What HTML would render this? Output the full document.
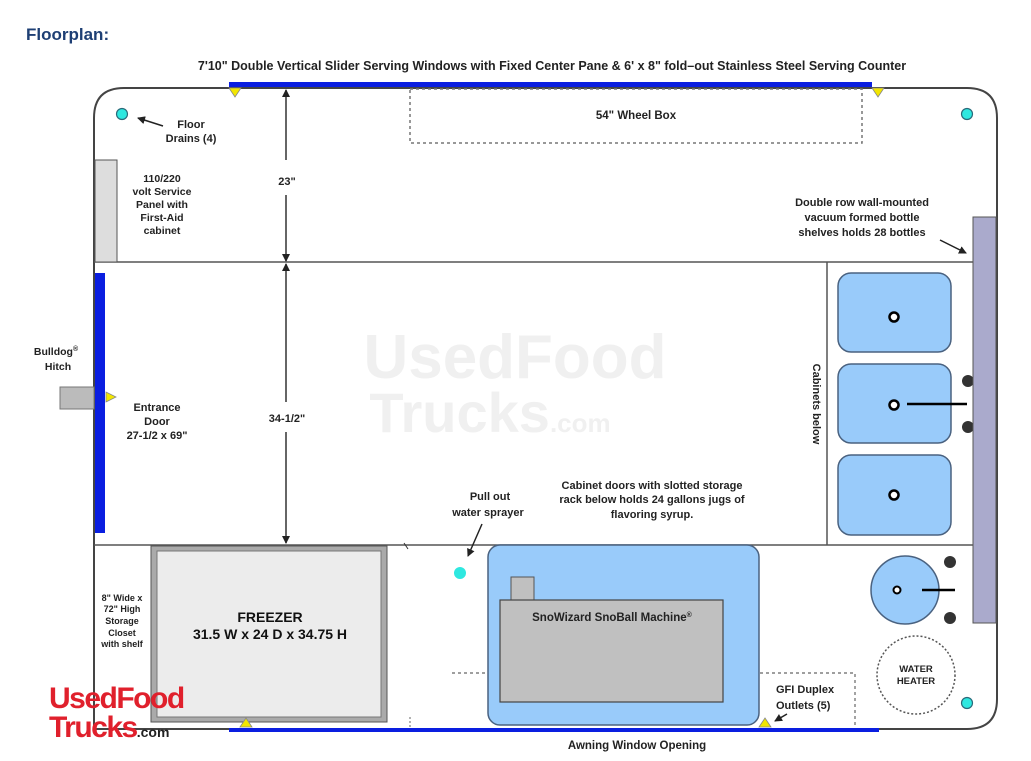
<!DOCTYPE html>
<html><head><meta charset="utf-8"><style>
html,body{margin:0;padding:0;background:#fff;}
svg{display:block;font-family:"Liberation Sans",Arial,sans-serif;}
</style></head><body>
<svg width="1031" height="761" viewBox="0 0 1031 761" xmlns="http://www.w3.org/2000/svg">
<defs>
<marker id="ah" markerWidth="8" markerHeight="8" refX="7" refY="4" orient="auto" markerUnits="userSpaceOnUse"><path d="M0,0 L8,4 L0,8 z" fill="#222"/></marker>
</defs>
<text x="26" y="40" font-size="17" font-weight="bold" fill="#1e3f74">Floorplan:</text>
<text x="552" y="70" font-size="12.5" font-weight="bold" fill="#222" text-anchor="middle">7'10" Double Vertical Slider Serving Windows with Fixed Center Pane &amp; 6' x 8" fold–out Stainless Steel Serving Counter</text>

<text x="515" y="378" font-size="62" font-weight="bold" fill="#f0f0f0" text-anchor="middle">UsedFood</text>
<text x="490" y="432" font-size="56" font-weight="bold" fill="#f0f0f0" text-anchor="middle">Trucks<tspan font-size="26">.com</tspan></text>

<path d="M94,729 L94,118 Q94,88 124,88 L967,88 Q997,88 997,118 L997,699 Q997,729 967,729 Z" fill="none" stroke="#444" stroke-width="2"/>
<rect x="410" y="89" width="452" height="54" fill="none" stroke="#777" stroke-width="1.5" stroke-dasharray="3,3"/>
<text x="636" y="119" font-size="11.5" font-weight="bold" fill="#222" text-anchor="middle">54" Wheel Box</text>
<rect x="229" y="82" width="643" height="5" fill="#0a1ee0"/>
<path d="M229,88 L241,88 L235,97 z" fill="#f2e600" stroke="#888" stroke-width="0.8"/>
<path d="M872,88 L884,88 L878,97 z" fill="#f2e600" stroke="#888" stroke-width="0.8"/>

<line x1="94" y1="262" x2="973" y2="262" stroke="#555" stroke-width="1.5"/>
<line x1="94" y1="545" x2="973" y2="545" stroke="#555" stroke-width="1.5"/>
<line x1="827" y1="262" x2="827" y2="545" stroke="#555" stroke-width="1.5"/>

<rect x="95" y="160" width="22" height="102" fill="#dddddd" stroke="#555" stroke-width="1"/>
<text font-size="10.5" font-weight="bold" fill="#222" text-anchor="middle"><tspan x="162" y="182">110/220</tspan><tspan x="162" y="195">volt Service</tspan><tspan x="162" y="208">Panel with</tspan><tspan x="162" y="221">First-Aid</tspan><tspan x="162" y="234">cabinet</tspan></text>

<circle cx="122" cy="114" r="5.5" fill="#2ee8e0" stroke="#2a6a7a" stroke-width="1.2"/>
<circle cx="967" cy="114" r="5.5" fill="#2ee8e0" stroke="#2a6a7a" stroke-width="1.2"/>
<circle cx="460" cy="573" r="5.5" fill="#2ee8e0" stroke="#2ee8e0" stroke-width="1"/>
<circle cx="967" cy="703" r="5.5" fill="#2ee8e0" stroke="#2a6a7a" stroke-width="1.2"/>
<line x1="163" y1="126" x2="138" y2="118" stroke="#222" stroke-width="1.5" marker-end="url(#ah)"/>
<text font-size="11" font-weight="bold" fill="#222" text-anchor="middle"><tspan x="191" y="128">Floor</tspan><tspan x="191" y="142">Drains (4)</tspan></text>

<line x1="286" y1="110" x2="286" y2="90" stroke="#333" stroke-width="1.5" marker-end="url(#ah)"/>
<line x1="286" y1="110" x2="286" y2="160"  stroke="#333" stroke-width="1.5"/>
<line x1="286" y1="195" x2="286" y2="261" stroke="#333" stroke-width="1.5" marker-end="url(#ah)"/>
<text x="287" y="185" font-size="11" font-weight="bold" fill="#222" text-anchor="middle">23"</text>
<line x1="286" y1="300" x2="286" y2="264" stroke="#333" stroke-width="1.5" marker-end="url(#ah)"/>
<line x1="286" y1="300" x2="286" y2="402" stroke="#333" stroke-width="1.5"/>
<line x1="286" y1="432" x2="286" y2="543" stroke="#333" stroke-width="1.5" marker-end="url(#ah)"/>
<text x="287" y="422" font-size="11" font-weight="bold" fill="#222" text-anchor="middle">34-1/2"</text>

<rect x="95" y="273" width="10" height="260" fill="#0a1ee0"/>
<rect x="60" y="387" width="34" height="22" fill="#bbbbbb" stroke="#777" stroke-width="1"/>
<path d="M106,392 L106,402 L116,397 z" fill="#f2e600" stroke="#888" stroke-width="0.8"/>
<text font-size="10.5" font-weight="bold" fill="#222" text-anchor="middle"><tspan x="56" y="355">Bulldog<tspan font-size="7" dy="-4">®</tspan></tspan><tspan x="58" y="370">Hitch</tspan></text>
<text font-size="11" font-weight="bold" fill="#222" text-anchor="middle"><tspan x="157" y="411">Entrance</tspan><tspan x="157" y="425">Door</tspan><tspan x="157" y="439">27-1/2 x 69"</tspan></text>

<rect x="838" y="273" width="113" height="79" rx="13" fill="#99cbfa" stroke="#4a6280" stroke-width="1.5"/>
<rect x="838" y="364" width="113" height="79" rx="13" fill="#99cbfa" stroke="#4a6280" stroke-width="1.5"/>
<rect x="838" y="455" width="113" height="80" rx="13" fill="#99cbfa" stroke="#4a6280" stroke-width="1.5"/>
<circle cx="894" cy="317" r="4.5" fill="#fff" stroke="#000" stroke-width="2.5"/>
<circle cx="894" cy="405" r="4.5" fill="#fff" stroke="#000" stroke-width="2.5"/>
<circle cx="894" cy="495" r="4.5" fill="#fff" stroke="#000" stroke-width="2.5"/>
<line x1="907" y1="404" x2="967" y2="404" stroke="#000" stroke-width="2.5"/>
<circle cx="968" cy="381" r="6" fill="#333"/>
<circle cx="968" cy="427" r="6" fill="#333"/>
<text transform="translate(813,404) rotate(90)" font-size="11" font-weight="bold" fill="#222" text-anchor="middle">Cabinets below</text>

<rect x="973" y="217" width="23" height="406" fill="#aaaacc" stroke="#555" stroke-width="1"/>
<text font-size="11" font-weight="bold" fill="#222" text-anchor="middle"><tspan x="862" y="206">Double row wall-mounted</tspan><tspan x="862" y="221">vacuum formed bottle</tspan><tspan x="862" y="236">shelves holds 28 bottles</tspan></text>
<line x1="940" y1="240" x2="966" y2="253" stroke="#222" stroke-width="1.5" marker-end="url(#ah)"/>

<text font-size="11" font-weight="bold" fill="#222" text-anchor="middle"><tspan x="652" y="489">Cabinet doors with slotted storage</tspan><tspan x="652" y="503">rack below holds 24 gallons jugs of</tspan><tspan x="652" y="518">flavoring syrup.</tspan></text>
<text font-size="11" font-weight="bold" fill="#222" text-anchor="middle"><tspan x="490" y="500">Pull out</tspan><tspan x="488" y="516">water sprayer</tspan></text>
<line x1="482" y1="524" x2="468" y2="556" stroke="#222" stroke-width="1.5" marker-end="url(#ah)"/>
<line x1="404" y1="543" x2="408" y2="549" stroke="#333" stroke-width="1"/>

<rect x="151" y="546" width="236" height="176" fill="#aaa" stroke="#555" stroke-width="1"/>
<rect x="157" y="551" width="224" height="166" fill="#ececec" stroke="#777" stroke-width="1"/>
<text x="270" y="622" font-size="14" font-weight="bold" fill="#111" text-anchor="middle">FREEZER</text>
<text x="270" y="639" font-size="14" font-weight="bold" fill="#111" text-anchor="middle">31.5 W x 24 D x 34.75 H</text>
<text font-size="9" font-weight="bold" fill="#222" text-anchor="middle"><tspan x="122" y="601">8" Wide x</tspan><tspan x="122" y="612">72" High</tspan><tspan x="122" y="624">Storage</tspan><tspan x="122" y="636">Closet</tspan><tspan x="122" y="647">with shelf</tspan></text>

<rect x="488" y="545" width="271" height="180" rx="12" fill="#99cbfa" stroke="#4a6280" stroke-width="1.5"/>
<rect x="511" y="577" width="23" height="24" fill="#c0c0c0" stroke="#555" stroke-width="1"/>
<rect x="500" y="600" width="223" height="102" fill="#c0c0c0" stroke="#444" stroke-width="1.2"/>
<text x="612" y="621" font-size="11.5" font-weight="bold" fill="#222" text-anchor="middle">SnoWizard SnoBall Machine<tspan font-size="7" dy="-4">®</tspan></text>

<path d="M452,673 L488,673 M760,673 L855,673 L855,729" fill="none" stroke="#666" stroke-width="1.2" stroke-dasharray="3,3"/>
<text font-size="11" font-weight="bold" fill="#222"><tspan x="776" y="693">GFI Duplex</tspan><tspan x="776" y="709">Outlets (5)</tspan></text>
<line x1="787" y1="714" x2="775" y2="721" stroke="#222" stroke-width="1.5" marker-end="url(#ah)"/>
<line x1="410" y1="717" x2="410" y2="727" stroke="#666" stroke-width="1" stroke-dasharray="2,2"/>

<circle cx="905" cy="590" r="34" fill="#99cbfa" stroke="#4a6280" stroke-width="1.5"/>
<circle cx="897" cy="590" r="3.5" fill="#fff" stroke="#000" stroke-width="2"/>
<line x1="922" y1="590" x2="955" y2="590" stroke="#000" stroke-width="2.5"/>
<circle cx="950" cy="562" r="6" fill="#333"/>
<circle cx="950" cy="618" r="6" fill="#333"/>
<circle cx="916" cy="675" r="39" fill="#fff" stroke="#555" stroke-width="1.5" stroke-dasharray="2,2"/>
<text font-size="9.5" font-weight="bold" fill="#222" text-anchor="middle"><tspan x="916" y="672">WATER</tspan><tspan x="916" y="684">HEATER</tspan></text>

<rect x="229" y="728" width="650" height="4" fill="#0a1ee0"/>
<path d="M240,727 L252,727 L246,718 z" fill="#f2e600" stroke="#888" stroke-width="0.8"/>
<path d="M759,727 L771,727 L765,718 z" fill="#f2e600" stroke="#888" stroke-width="0.8"/>
<text x="637" y="749" font-size="11.5" font-weight="bold" fill="#222" text-anchor="middle">Awning Window Opening</text>

<text x="49" y="708" font-size="30" font-weight="bold" fill="#e0202c" letter-spacing="-1.5">UsedFood</text>
<text x="49" y="737" font-size="30" font-weight="bold" fill="#e0202c" letter-spacing="-1.5">Trucks<tspan font-size="14" fill="#222" letter-spacing="0">.com</tspan></text>
</svg>
</body></html>
